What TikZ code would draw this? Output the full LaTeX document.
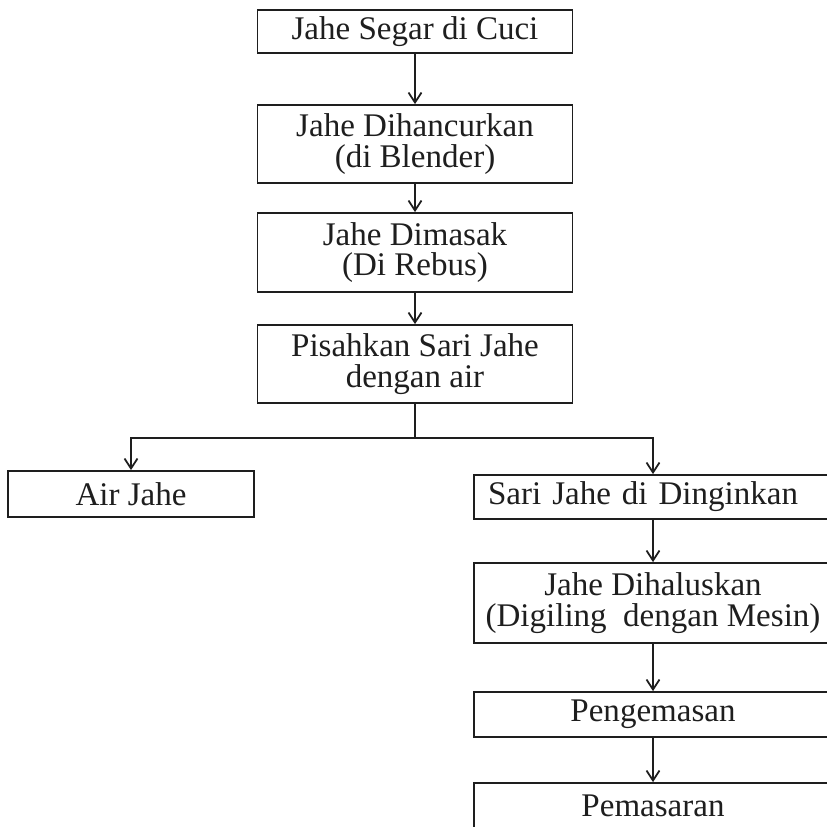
\documentclass[tikz,border=0pt]{standalone}
\usepackage{fontspec}
\setmainfont{Liberation Serif}
\usetikzlibrary{arrows.meta}
\definecolor{ScanBlack}{HTML}{1E1E1E}

\begin{document}
\begin{tikzpicture}[x=0.02cm, y=-0.02cm,
    stepbox/.style={draw=ScanBlack, line width=1pt, text=ScanBlack, align=center,
      font=\fontsize{18.8}{17.2}\selectfont, inner sep=0pt, minimum width=6.3cm},
    sidebox/.style={stepbox, minimum width=7.16cm},
    flow/.style={draw=ScanBlack, line width=1pt, -{Straight Barb[length=2mm, width=2.6mm]}}]
      \useasboundingbox (0,0) rectangle (826,827);
      % Main column
      \node[stepbox, minimum height=0.86cm] (cuci) at (415,31.5) {Jahe Segar di Cuci};
      \node[stepbox, minimum height=1.56cm] (blender) at (415,144) {Jahe Dihancurkan\\(di Blender)};
      \node[stepbox, minimum height=1.58cm] (rebus) at (415,252.5) {Jahe Dimasak\\(Di Rebus)};
      \node[stepbox, minimum height=1.56cm] (pisah) at (415,364) {Pisahkan Sari Jahe\\dengan air};
      % Branches
      \node[stepbox, minimum width=4.92cm, minimum height=0.92cm] (air) at (131,494) {Air Jahe};
      \node[sidebox, minimum height=0.88cm, align=left, text width=6.6cm, inner xsep=0.28cm]
        (dingin) at (653,497) {Sari Jahe di Dinginkan};
      \node[sidebox, minimum height=1.6cm] (halus) at (653,603) {Jahe Dihaluskan\\(Digiling\ \ dengan Mesin)};
      \node[sidebox, minimum height=0.9cm] (kemas) at (653,714.5) {Pengemasan};
      \node[sidebox, minimum height=0.9cm] (pasar) at (653,805.5) {Pemasaran};
      \coordinate (split) at (415,438);
      % Arrows
      \draw[flow] (cuci) -- (blender);
      \draw[flow] (blender) -- (rebus);
      \draw[flow] (rebus) -- (pisah);
      \draw[draw=ScanBlack, line width=1pt] (pisah) -- (split);
      \draw[flow] (split) -| (air);
      \draw[flow] (split) -| (dingin);
      \draw[flow] (dingin) -- (halus);
      \draw[flow] (halus) -- (kemas);
      \draw[flow] (kemas) -- (pasar);
    \end{tikzpicture}
\end{document}
